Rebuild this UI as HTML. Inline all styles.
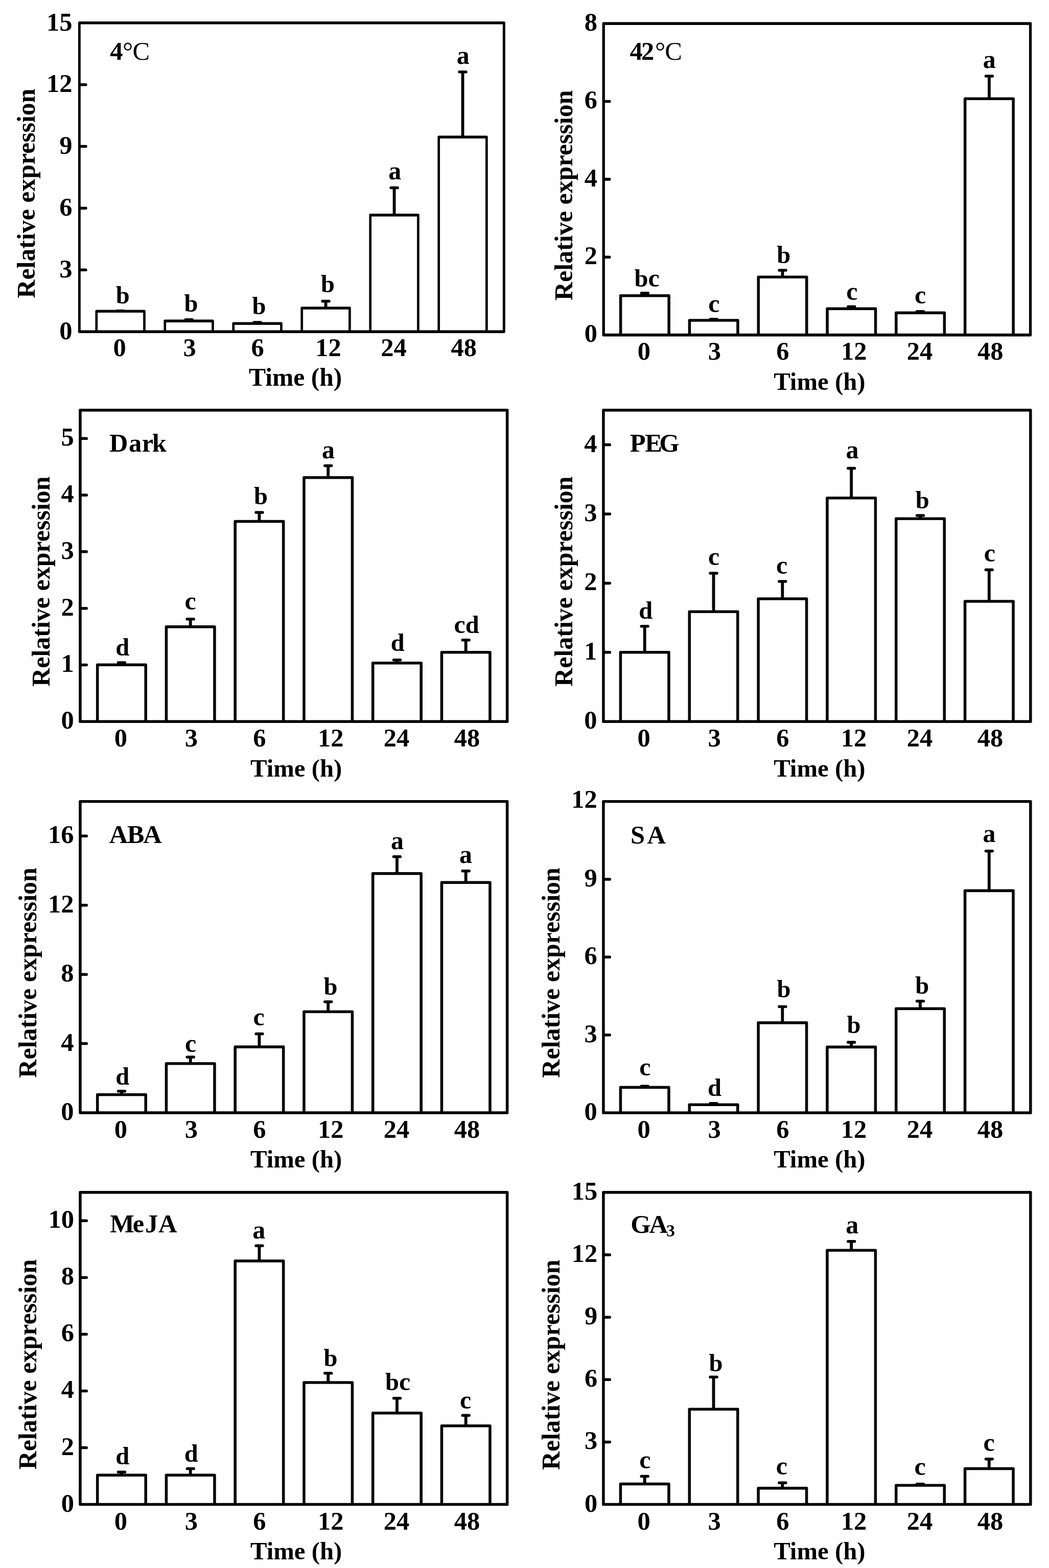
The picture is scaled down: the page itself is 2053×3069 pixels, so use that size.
<!DOCTYPE html>
<html><head><meta charset="utf-8"><title>Relative expression</title><style>
html,body{margin:0;padding:0;background:#fff;}
svg{display:block;}
text{font-family:"Liberation Serif","Times New Roman",serif;font-weight:bold;fill:#000;}

</style></head><body>
<svg width="2053" height="3069" viewBox="0 0 2053 3069">
<rect width="2053" height="3069" fill="#fff"/>
<rect x="152.9" y="42" width="835.9" height="609.9" rx="2.6"/>
<rect x="157.8" y="47.5" width="826.1" height="598.9" fill="#fff"/>
<rect x="186.45" y="606.4" width="98.4" height="43" rx="2.6"/>
<rect x="191.15" y="611.9" width="89" height="34.5" fill="#fff"/>
<rect x="226.5" y="605.7" width="18.3" height="5.5" rx="2.5"/>
<rect x="320.43" y="625.5" width="98.4" height="23.9" rx="2.6"/>
<rect x="325.13" y="631" width="89" height="15.4" fill="#fff"/>
<rect x="366.73" y="623.9" width="5.8" height="3.6"/>
<rect x="360.48" y="622.9" width="18.3" height="5.5" rx="2.5"/>
<rect x="454.41" y="630.4" width="98.4" height="19" rx="2.6"/>
<rect x="459.11" y="635.9" width="89" height="10.5" fill="#fff"/>
<rect x="500.71" y="629.2" width="5.8" height="3.2"/>
<rect x="494.46" y="628.2" width="18.3" height="5.5" rx="2.5"/>
<rect x="588.39" y="600.2" width="98.4" height="49.2" rx="2.6"/>
<rect x="593.09" y="605.7" width="89" height="40.7" fill="#fff"/>
<rect x="634.69" y="587.8" width="5.8" height="14.4"/>
<rect x="628.44" y="586.8" width="18.3" height="5.5" rx="2.5"/>
<rect x="722.37" y="418.2" width="98.4" height="231.2" rx="2.6"/>
<rect x="727.07" y="423.7" width="89" height="222.7" fill="#fff"/>
<rect x="768.67" y="365.8" width="5.8" height="54.4"/>
<rect x="762.42" y="364.8" width="18.3" height="5.5" rx="2.5"/>
<rect x="856.35" y="265.5" width="98.4" height="383.9" rx="2.6"/>
<rect x="861.05" y="271" width="89" height="375.4" fill="#fff"/>
<rect x="902.65" y="139" width="5.8" height="128.5"/>
<rect x="896.4" y="138" width="18.3" height="5.5" rx="2.5"/>
<text x="141.5" y="663.95" font-size="50.5" text-anchor="end">0</text>
<rect x="155.35" y="525.52" width="15.25" height="5.5" rx="2.6"/>
<text x="141.5" y="543.07" font-size="50.5" text-anchor="end">3</text>
<rect x="155.35" y="404.64" width="15.25" height="5.5" rx="2.6"/>
<text x="141.5" y="422.19" font-size="50.5" text-anchor="end">6</text>
<rect x="155.35" y="283.76" width="15.25" height="5.5" rx="2.6"/>
<text x="141.5" y="301.31" font-size="50.5" text-anchor="end">9</text>
<rect x="155.35" y="162.88" width="15.25" height="5.5" rx="2.6"/>
<text x="141.5" y="180.43" font-size="50.5" text-anchor="end">12</text>
<text x="141.5" y="59.55" font-size="50.5" text-anchor="end">15</text>
<text x="221.53" y="697.3" font-size="50.5">0</text>
<text x="358.62" y="697.3" font-size="50.5">3</text>
<text x="491.46" y="697.3" font-size="50.5">6</text>
<text x="617.3" y="697.3" font-size="50.5">12</text>
<text x="745.33" y="697.3" font-size="50.5">24</text>
<text x="882.59" y="697.3" font-size="50.5">48</text>
<text x="487.09" y="754.6" font-size="49.6">Time (h)</text>
<text transform="translate(67.7,583.44) rotate(-90)" font-size="49.8">Relative expression</text>
<text x="226.74" y="593.53" font-size="48.5">b</text>
<text x="360.49" y="609.53" font-size="48.5">b</text>
<text x="493.44" y="615.13" font-size="48.5">b</text>
<text x="627.99" y="572.33" font-size="48.5">b</text>
<text x="760.22" y="350.61" font-size="50">a</text>
<text x="893.77" y="125.21" font-size="50">a</text>
<text x="215.31" y="117.4" font-size="50.5">4</text>
<text x="239.88" y="117.4" font-size="50.5" style="font-weight:normal">°</text>
<text x="259.53" y="117.4" font-size="50.5" style="font-weight:normal">C</text>
<rect x="1178.6" y="43.3" width="840.6" height="615.1" rx="2.6"/>
<rect x="1183.9" y="48.9" width="830" height="603.9" fill="#fff"/>
<rect x="1211.9" y="576" width="100" height="79.8" rx="2.6"/>
<rect x="1217.4" y="581.5" width="89" height="71.3" fill="#fff"/>
<rect x="1259" y="572" width="5.8" height="6"/>
<rect x="1252.75" y="571" width="18.3" height="5.5" rx="2.5"/>
<rect x="1346.7" y="624.2" width="100" height="31.6" rx="2.6"/>
<rect x="1352.2" y="629.7" width="89" height="23.1" fill="#fff"/>
<rect x="1393.8" y="623" width="5.8" height="3.2"/>
<rect x="1387.55" y="622" width="18.3" height="5.5" rx="2.5"/>
<rect x="1481.5" y="539.4" width="100" height="116.4" rx="2.6"/>
<rect x="1487" y="544.9" width="89" height="107.9" fill="#fff"/>
<rect x="1528.6" y="527.2" width="5.8" height="14.2"/>
<rect x="1522.35" y="526.2" width="18.3" height="5.5" rx="2.5"/>
<rect x="1616.3" y="601.5" width="100" height="54.3" rx="2.6"/>
<rect x="1621.8" y="607" width="89" height="45.8" fill="#fff"/>
<rect x="1663.4" y="598.4" width="5.8" height="5.1"/>
<rect x="1657.15" y="597.4" width="18.3" height="5.5" rx="2.5"/>
<rect x="1751.1" y="609.6" width="100" height="46.2" rx="2.6"/>
<rect x="1756.6" y="615.1" width="89" height="37.7" fill="#fff"/>
<rect x="1798.2" y="607.9" width="5.8" height="3.7"/>
<rect x="1791.95" y="606.9" width="18.3" height="5.5" rx="2.5"/>
<rect x="1885.9" y="190.4" width="100" height="465.4" rx="2.6"/>
<rect x="1891.4" y="195.9" width="89" height="456.9" fill="#fff"/>
<rect x="1933" y="147.2" width="5.8" height="45.2"/>
<rect x="1926.75" y="146.2" width="18.3" height="5.5" rx="2.5"/>
<text x="1169" y="669.4" font-size="50.5" text-anchor="end">0</text>
<rect x="1181.25" y="500.43" width="14.25" height="5.6" rx="2.6"/>
<text x="1169" y="517.02" font-size="50.5" text-anchor="end">2</text>
<rect x="1181.25" y="348.05" width="14.25" height="5.6" rx="2.6"/>
<text x="1169" y="364.65" font-size="50.5" text-anchor="end">4</text>
<rect x="1181.25" y="195.68" width="14.25" height="5.6" rx="2.6"/>
<text x="1169" y="212.28" font-size="50.5" text-anchor="end">6</text>
<text x="1169" y="59.5" font-size="50.5" text-anchor="end">8</text>
<text x="1247.78" y="704.4" font-size="50.5">0</text>
<text x="1385.69" y="704.4" font-size="50.5">3</text>
<text x="1519.35" y="704.4" font-size="50.5">6</text>
<text x="1646.01" y="704.4" font-size="50.5">12</text>
<text x="1774.86" y="704.4" font-size="50.5">24</text>
<text x="1912.94" y="704.4" font-size="50.5">48</text>
<text x="1514.16" y="762.8" font-size="48.8">Time (h)</text>
<text transform="translate(1119.8,588.01) rotate(-90)" font-size="50">Relative expression</text>
<text x="1241.58" y="560.53" font-size="48.5">b</text>
<text x="1268.56" y="560.53" font-size="50">c</text>
<text x="1386.27" y="610.54" font-size="50">c</text>
<text x="1520.24" y="515.33" font-size="48.5">b</text>
<text x="1656.37" y="586.54" font-size="50">c</text>
<text x="1789.92" y="594.34" font-size="50">c</text>
<text x="1923.72" y="132.61" font-size="50">a</text>
<text x="1232.41" y="117.4" font-size="50.5">4</text>
<text x="1254.98" y="117.4" font-size="50.5">2</text>
<text x="1281.88" y="117.4" font-size="50.5" style="font-weight:normal">°</text>
<text x="1301.13" y="117.4" font-size="50.5" style="font-weight:normal">C</text>
<rect x="154.2" y="800.1" width="841.2" height="614.9" rx="2.6"/>
<rect x="159.7" y="805.6" width="830.2" height="603.9" fill="#fff"/>
<rect x="187.95" y="1298.5" width="100" height="114" rx="2.6"/>
<rect x="193.45" y="1304" width="89" height="105.5" fill="#fff"/>
<rect x="235.05" y="1295.3" width="5.8" height="5.2"/>
<rect x="228.8" y="1294.3" width="18.3" height="5.5" rx="2.5"/>
<rect x="322.7" y="1224.1" width="100" height="188.4" rx="2.6"/>
<rect x="328.2" y="1229.6" width="89" height="179.9" fill="#fff"/>
<rect x="369.8" y="1210.1" width="5.8" height="16"/>
<rect x="363.55" y="1209.1" width="18.3" height="5.5" rx="2.5"/>
<rect x="457.45" y="1017.8" width="100" height="394.7" rx="2.6"/>
<rect x="462.95" y="1023.3" width="89" height="386.2" fill="#fff"/>
<rect x="504.55" y="1001.2" width="5.8" height="18.6"/>
<rect x="498.3" y="1000.2" width="18.3" height="5.5" rx="2.5"/>
<rect x="592.2" y="932" width="100" height="480.5" rx="2.6"/>
<rect x="597.7" y="937.5" width="89" height="472" fill="#fff"/>
<rect x="639.3" y="909.7" width="5.8" height="24.3"/>
<rect x="633.05" y="908.7" width="18.3" height="5.5" rx="2.5"/>
<rect x="726.95" y="1295" width="100" height="117.5" rx="2.6"/>
<rect x="732.45" y="1300.5" width="89" height="109" fill="#fff"/>
<rect x="774.05" y="1290" width="5.8" height="7"/>
<rect x="767.8" y="1289" width="18.3" height="5.5" rx="2.5"/>
<rect x="861.7" y="1274" width="100" height="138.5" rx="2.6"/>
<rect x="867.2" y="1279.5" width="89" height="130" fill="#fff"/>
<rect x="908.8" y="1251" width="5.8" height="25"/>
<rect x="902.55" y="1250" width="18.3" height="5.5" rx="2.5"/>
<text x="144.8" y="1426.25" font-size="50.5" text-anchor="end">0</text>
<rect x="156.95" y="1298.7" width="15.05" height="5.5" rx="2.6"/>
<text x="144.8" y="1315.45" font-size="50.5" text-anchor="end">1</text>
<rect x="156.95" y="1187.9" width="15.05" height="5.5" rx="2.6"/>
<text x="144.8" y="1204.65" font-size="50.5" text-anchor="end">2</text>
<rect x="156.95" y="1077.1" width="15.05" height="5.5" rx="2.6"/>
<text x="144.8" y="1093.85" font-size="50.5" text-anchor="end">3</text>
<rect x="156.95" y="966.3" width="15.05" height="5.5" rx="2.6"/>
<text x="144.8" y="983.05" font-size="50.5" text-anchor="end">4</text>
<rect x="156.95" y="855.5" width="15.05" height="5.5" rx="2.6"/>
<text x="144.8" y="872.25" font-size="50.5" text-anchor="end">5</text>
<text x="223.82" y="1461.2" font-size="50.5">0</text>
<text x="361.69" y="1461.2" font-size="50.5">3</text>
<text x="495.3" y="1461.2" font-size="50.5">6</text>
<text x="621.91" y="1461.2" font-size="50.5">12</text>
<text x="750.71" y="1461.2" font-size="50.5">24</text>
<text x="888.74" y="1461.2" font-size="50.5">48</text>
<text x="490.01" y="1519.5" font-size="48.8">Time (h)</text>
<text transform="translate(96.5,1343.86) rotate(-90)" font-size="50">Relative expression</text>
<text x="226.35" y="1282.53" font-size="48.5">d</text>
<text x="361.62" y="1192.74" font-size="50">c</text>
<text x="496.99" y="987.43" font-size="48.5">b</text>
<text x="630.12" y="896.61" font-size="50">a</text>
<text x="764.75" y="1273.53" font-size="48.5">d</text>
<text x="888.53" y="1239.23" font-size="50">c</text>
<text x="910.73" y="1239.23" font-size="48.5">d</text>
<text x="214.11" y="883.7" font-size="50.5">D</text>
<text x="251.97" y="883.7" font-size="50.5">a</text>
<text x="277.64" y="883.7" font-size="50.5">r</text>
<text x="297.84" y="883.7" font-size="50.5">k</text>
<rect x="1178.2" y="800.1" width="841.4" height="614.9" rx="2.6"/>
<rect x="1183.7" y="805.6" width="830.4" height="603.9" fill="#fff"/>
<rect x="1211.7" y="1274" width="100" height="138.5" rx="2.6"/>
<rect x="1217.2" y="1279.5" width="89" height="130" fill="#fff"/>
<rect x="1258.8" y="1224.1" width="5.8" height="51.9"/>
<rect x="1252.55" y="1223.1" width="18.3" height="5.5" rx="2.5"/>
<rect x="1346.52" y="1194.4" width="100" height="218.1" rx="2.6"/>
<rect x="1352.02" y="1199.9" width="89" height="209.6" fill="#fff"/>
<rect x="1393.62" y="1120.3" width="5.8" height="76.1"/>
<rect x="1387.37" y="1119.3" width="18.3" height="5.5" rx="2.5"/>
<rect x="1481.34" y="1169.2" width="100" height="243.3" rx="2.6"/>
<rect x="1486.84" y="1174.7" width="89" height="234.8" fill="#fff"/>
<rect x="1528.44" y="1136.3" width="5.8" height="34.9"/>
<rect x="1522.19" y="1135.3" width="18.3" height="5.5" rx="2.5"/>
<rect x="1616.16" y="971.9" width="100" height="440.6" rx="2.6"/>
<rect x="1621.66" y="977.4" width="89" height="432.1" fill="#fff"/>
<rect x="1663.26" y="914.7" width="5.8" height="59.2"/>
<rect x="1657.01" y="913.7" width="18.3" height="5.5" rx="2.5"/>
<rect x="1750.98" y="1012.4" width="100" height="400.1" rx="2.6"/>
<rect x="1756.48" y="1017.9" width="89" height="391.6" fill="#fff"/>
<rect x="1798.08" y="1007.3" width="5.8" height="7.1"/>
<rect x="1791.83" y="1006.3" width="18.3" height="5.5" rx="2.5"/>
<rect x="1885.8" y="1174.2" width="100" height="238.3" rx="2.6"/>
<rect x="1891.3" y="1179.7" width="89" height="229.8" fill="#fff"/>
<rect x="1932.9" y="1113.6" width="5.8" height="62.6"/>
<rect x="1926.65" y="1112.6" width="18.3" height="5.5" rx="2.5"/>
<text x="1168.5" y="1426.25" font-size="50.5" text-anchor="end">0</text>
<rect x="1180.95" y="1274.08" width="15.15" height="5.5" rx="2.6"/>
<text x="1168.5" y="1290.83" font-size="50.5" text-anchor="end">1</text>
<rect x="1180.95" y="1138.66" width="15.15" height="5.5" rx="2.6"/>
<text x="1168.5" y="1155.41" font-size="50.5" text-anchor="end">2</text>
<rect x="1180.95" y="1003.23" width="15.15" height="5.5" rx="2.6"/>
<text x="1168.5" y="1019.98" font-size="50.5" text-anchor="end">3</text>
<rect x="1180.95" y="867.81" width="15.15" height="5.5" rx="2.6"/>
<text x="1168.5" y="884.56" font-size="50.5" text-anchor="end">4</text>
<text x="1247.58" y="1461.2" font-size="50.5">0</text>
<text x="1385.51" y="1461.2" font-size="50.5">3</text>
<text x="1519.19" y="1461.2" font-size="50.5">6</text>
<text x="1645.87" y="1461.2" font-size="50.5">12</text>
<text x="1774.74" y="1461.2" font-size="50.5">24</text>
<text x="1912.84" y="1461.2" font-size="50.5">48</text>
<text x="1514.16" y="1519.5" font-size="48.8">Time (h)</text>
<text transform="translate(1119.8,1343.86) rotate(-90)" font-size="50">Relative expression</text>
<text x="1250.3" y="1211.33" font-size="48.5">d</text>
<text x="1385.97" y="1105.54" font-size="50">c</text>
<text x="1519.12" y="1122.84" font-size="50">c</text>
<text x="1655.62" y="896.61" font-size="50">a</text>
<text x="1791.64" y="995.43" font-size="48.5">b</text>
<text x="1925.87" y="1098.84" font-size="50">c</text>
<text x="1232.74" y="883.7" font-size="50.5">P</text>
<text x="1262.34" y="883.7" font-size="50.5">E</text>
<text x="1290.23" y="883.7" font-size="50.5">G</text>
<rect x="154.2" y="1565.9" width="841.2" height="614.8" rx="2.6"/>
<rect x="159.7" y="1571.4" width="830.2" height="603.8" fill="#fff"/>
<rect x="187.95" y="2139.8" width="100" height="38.4" rx="2.6"/>
<rect x="193.45" y="2145.3" width="89" height="29.9" fill="#fff"/>
<rect x="235.05" y="2134.1" width="5.8" height="7.7"/>
<rect x="228.8" y="2133.1" width="18.3" height="5.5" rx="2.5"/>
<rect x="322.7" y="2078.9" width="100" height="99.3" rx="2.6"/>
<rect x="328.2" y="2084.4" width="89" height="90.8" fill="#fff"/>
<rect x="369.8" y="2067.3" width="5.8" height="13.6"/>
<rect x="363.55" y="2066.3" width="18.3" height="5.5" rx="2.5"/>
<rect x="457.45" y="2046.3" width="100" height="131.9" rx="2.6"/>
<rect x="462.95" y="2051.8" width="89" height="123.4" fill="#fff"/>
<rect x="504.55" y="2021.7" width="5.8" height="26.6"/>
<rect x="498.3" y="2020.7" width="18.3" height="5.5" rx="2.5"/>
<rect x="592.2" y="1977.4" width="100" height="200.8" rx="2.6"/>
<rect x="597.7" y="1982.9" width="89" height="192.3" fill="#fff"/>
<rect x="639.3" y="1959.1" width="5.8" height="20.3"/>
<rect x="633.05" y="1958.1" width="18.3" height="5.5" rx="2.5"/>
<rect x="726.95" y="1707" width="100" height="471.2" rx="2.6"/>
<rect x="732.45" y="1712.5" width="89" height="462.7" fill="#fff"/>
<rect x="774.05" y="1675.1" width="5.8" height="33.9"/>
<rect x="767.8" y="1674.1" width="18.3" height="5.5" rx="2.5"/>
<rect x="861.7" y="1724.6" width="100" height="453.6" rx="2.6"/>
<rect x="867.2" y="1730.1" width="89" height="445.1" fill="#fff"/>
<rect x="908.8" y="1703" width="5.8" height="23.6"/>
<rect x="902.55" y="1702" width="18.3" height="5.5" rx="2.5"/>
<text x="144.5" y="2191.95" font-size="50.5" text-anchor="end">0</text>
<rect x="156.95" y="2039.8" width="15.05" height="5.5" rx="2.6"/>
<text x="144.5" y="2056.55" font-size="50.5" text-anchor="end">4</text>
<rect x="156.95" y="1904.4" width="15.05" height="5.5" rx="2.6"/>
<text x="144.5" y="1921.15" font-size="50.5" text-anchor="end">8</text>
<rect x="156.95" y="1769" width="15.05" height="5.5" rx="2.6"/>
<text x="144.5" y="1785.75" font-size="50.5" text-anchor="end">12</text>
<rect x="156.95" y="1633.6" width="15.05" height="5.5" rx="2.6"/>
<text x="144.5" y="1650.35" font-size="50.5" text-anchor="end">16</text>
<text x="223.82" y="2226.9" font-size="50.5">0</text>
<text x="361.69" y="2226.9" font-size="50.5">3</text>
<text x="495.3" y="2226.9" font-size="50.5">6</text>
<text x="621.91" y="2226.9" font-size="50.5">12</text>
<text x="750.71" y="2226.9" font-size="50.5">24</text>
<text x="888.74" y="2226.9" font-size="50.5">48</text>
<text x="490.01" y="2285.2" font-size="48.8">Time (h)</text>
<text transform="translate(70.5,2109.66) rotate(-90)" font-size="50">Relative expression</text>
<text x="226.35" y="2123.33" font-size="48.5">d</text>
<text x="361.92" y="2058.54" font-size="50">c</text>
<text x="495.62" y="2006.94" font-size="50">c</text>
<text x="633.54" y="1947.03" font-size="48.5">b</text>
<text x="765.02" y="1661.61" font-size="50">a</text>
<text x="899.07" y="1689.21" font-size="50">a</text>
<text x="213.81" y="1650.4" font-size="50.5">A</text>
<text x="248.76" y="1650.4" font-size="50.5">B</text>
<text x="280.31" y="1650.4" font-size="50.5">A</text>
<rect x="1178.2" y="1565.9" width="841.4" height="614.9" rx="2.6"/>
<rect x="1183.7" y="1571.4" width="830.4" height="603.9" fill="#fff"/>
<rect x="1211.7" y="2125.5" width="100" height="52.8" rx="2.6"/>
<rect x="1217.2" y="2131" width="89" height="44.3" fill="#fff"/>
<rect x="1258.8" y="2124.2" width="5.8" height="3.3"/>
<rect x="1252.55" y="2123.2" width="18.3" height="5.5" rx="2.5"/>
<rect x="1346.52" y="2159.4" width="100" height="18.9" rx="2.6"/>
<rect x="1352.02" y="2164.9" width="89" height="10.4" fill="#fff"/>
<rect x="1393.62" y="2158.1" width="5.8" height="3.3"/>
<rect x="1387.37" y="2157.1" width="18.3" height="5.5" rx="2.5"/>
<rect x="1481.34" y="1999.1" width="100" height="179.2" rx="2.6"/>
<rect x="1486.84" y="2004.6" width="89" height="170.7" fill="#fff"/>
<rect x="1528.44" y="1968.5" width="5.8" height="32.6"/>
<rect x="1522.19" y="1967.5" width="18.3" height="5.5" rx="2.5"/>
<rect x="1616.16" y="2046.6" width="100" height="131.7" rx="2.6"/>
<rect x="1621.66" y="2052.1" width="89" height="123.2" fill="#fff"/>
<rect x="1663.26" y="2038.3" width="5.8" height="10.3"/>
<rect x="1657.01" y="2037.3" width="18.3" height="5.5" rx="2.5"/>
<rect x="1750.98" y="1971.5" width="100" height="206.8" rx="2.6"/>
<rect x="1756.48" y="1977" width="89" height="198.3" fill="#fff"/>
<rect x="1798.08" y="1957.8" width="5.8" height="15.7"/>
<rect x="1791.83" y="1956.8" width="18.3" height="5.5" rx="2.5"/>
<rect x="1885.8" y="1740.6" width="100" height="437.7" rx="2.6"/>
<rect x="1891.3" y="1746.1" width="89" height="429.2" fill="#fff"/>
<rect x="1932.9" y="1664.1" width="5.8" height="78.5"/>
<rect x="1926.65" y="1663.1" width="18.3" height="5.5" rx="2.5"/>
<text x="1168.8" y="2192.05" font-size="50.5" text-anchor="end">0</text>
<rect x="1180.95" y="2022.95" width="15.05" height="5.5" rx="2.6"/>
<text x="1168.8" y="2039.7" font-size="50.5" text-anchor="end">3</text>
<rect x="1180.95" y="1870.6" width="15.05" height="5.5" rx="2.6"/>
<text x="1168.8" y="1887.35" font-size="50.5" text-anchor="end">6</text>
<rect x="1180.95" y="1718.25" width="15.05" height="5.5" rx="2.6"/>
<text x="1168.8" y="1735" font-size="50.5" text-anchor="end">9</text>
<text x="1168.8" y="1581.4" font-size="50.5" text-anchor="end">12</text>
<text x="1247.58" y="2227" font-size="50.5">0</text>
<text x="1385.51" y="2227" font-size="50.5">3</text>
<text x="1519.19" y="2227" font-size="50.5">6</text>
<text x="1645.87" y="2227" font-size="50.5">12</text>
<text x="1774.74" y="2227" font-size="50.5">24</text>
<text x="1912.84" y="2227" font-size="50.5">48</text>
<text x="1514.16" y="2285.3" font-size="48.8">Time (h)</text>
<text transform="translate(1094.9,2109.66) rotate(-90)" font-size="50">Relative expression</text>
<text x="1251.17" y="2105.04" font-size="50">c</text>
<text x="1385.05" y="2144.93" font-size="48.5">d</text>
<text x="1520.54" y="1952.03" font-size="48.5">b</text>
<text x="1657.54" y="2021.93" font-size="48.5">b</text>
<text x="1791.34" y="1945.33" font-size="48.5">b</text>
<text x="1923.42" y="1648.31" font-size="50">a</text>
<text x="1234.11" y="1650.5" font-size="50.5">S</text>
<text x="1266.61" y="1650.5" font-size="50.5">A</text>
<rect x="154.2" y="2331.1" width="841.2" height="616.2" rx="2.6"/>
<rect x="159.7" y="2336.6" width="830.2" height="605.2" fill="#fff"/>
<rect x="187.95" y="2884.5" width="100" height="60.3" rx="2.6"/>
<rect x="193.45" y="2890" width="89" height="51.8" fill="#fff"/>
<rect x="235.05" y="2879.5" width="5.8" height="7"/>
<rect x="228.8" y="2878.5" width="18.3" height="5.5" rx="2.5"/>
<rect x="322.7" y="2884.5" width="100" height="60.3" rx="2.6"/>
<rect x="328.2" y="2890" width="89" height="51.8" fill="#fff"/>
<rect x="369.8" y="2872.8" width="5.8" height="13.7"/>
<rect x="363.55" y="2871.8" width="18.3" height="5.5" rx="2.5"/>
<rect x="457.45" y="2465.3" width="100" height="479.5" rx="2.6"/>
<rect x="462.95" y="2470.8" width="89" height="471" fill="#fff"/>
<rect x="504.55" y="2436.4" width="5.8" height="30.9"/>
<rect x="498.3" y="2435.4" width="18.3" height="5.5" rx="2.5"/>
<rect x="592.2" y="2703.2" width="100" height="241.6" rx="2.6"/>
<rect x="597.7" y="2708.7" width="89" height="233.1" fill="#fff"/>
<rect x="639.3" y="2685.9" width="5.8" height="19.3"/>
<rect x="633.05" y="2684.9" width="18.3" height="5.5" rx="2.5"/>
<rect x="726.95" y="2763" width="100" height="181.8" rx="2.6"/>
<rect x="732.45" y="2768.5" width="89" height="173.3" fill="#fff"/>
<rect x="774.05" y="2735.1" width="5.8" height="29.9"/>
<rect x="767.8" y="2734.1" width="18.3" height="5.5" rx="2.5"/>
<rect x="861.7" y="2788" width="100" height="156.8" rx="2.6"/>
<rect x="867.2" y="2793.5" width="89" height="148.3" fill="#fff"/>
<rect x="908.8" y="2768.4" width="5.8" height="21.6"/>
<rect x="902.55" y="2767.4" width="18.3" height="5.5" rx="2.5"/>
<text x="144.9" y="2958.55" font-size="50.5" text-anchor="end">0</text>
<rect x="156.95" y="2830.76" width="15.05" height="5.5" rx="2.6"/>
<text x="144.9" y="2847.51" font-size="50.5" text-anchor="end">2</text>
<rect x="156.95" y="2719.73" width="15.05" height="5.5" rx="2.6"/>
<text x="144.9" y="2736.48" font-size="50.5" text-anchor="end">4</text>
<rect x="156.95" y="2608.69" width="15.05" height="5.5" rx="2.6"/>
<text x="144.9" y="2625.44" font-size="50.5" text-anchor="end">6</text>
<rect x="156.95" y="2497.65" width="15.05" height="5.5" rx="2.6"/>
<text x="144.9" y="2514.4" font-size="50.5" text-anchor="end">8</text>
<rect x="156.95" y="2386.62" width="15.05" height="5.5" rx="2.6"/>
<text x="144.9" y="2403.37" font-size="50.5" text-anchor="end">10</text>
<text x="223.82" y="2993.5" font-size="50.5">0</text>
<text x="361.69" y="2993.5" font-size="50.5">3</text>
<text x="495.3" y="2993.5" font-size="50.5">6</text>
<text x="621.91" y="2993.5" font-size="50.5">12</text>
<text x="750.71" y="2993.5" font-size="50.5">24</text>
<text x="888.74" y="2993.5" font-size="50.5">48</text>
<text x="490.01" y="3051.8" font-size="48.8">Time (h)</text>
<text transform="translate(70.5,2876.26) rotate(-90)" font-size="50">Relative expression</text>
<text x="226.35" y="2866.33" font-size="48.5">d</text>
<text x="360.75" y="2860.73" font-size="48.5">d</text>
<text x="494.37" y="2424.21" font-size="50">a</text>
<text x="633.54" y="2673.73" font-size="48.5">b</text>
<text x="754.03" y="2721.03" font-size="48.5">b</text>
<text x="781.01" y="2721.03" font-size="50">c</text>
<text x="900.02" y="2756.94" font-size="50">c</text>
<text x="215.24" y="2411.9" font-size="50.5">M</text>
<text x="259.67" y="2411.9" font-size="50.5">e</text>
<text x="283.96" y="2411.9" font-size="50.5">J</text>
<text x="309.91" y="2411.9" font-size="50.5">A</text>
<rect x="1178.2" y="2331.1" width="841.4" height="616.2" rx="2.6"/>
<rect x="1183.7" y="2336.6" width="830.4" height="605.2" fill="#fff"/>
<rect x="1211.7" y="2901.8" width="100" height="43" rx="2.6"/>
<rect x="1217.2" y="2907.3" width="89" height="34.5" fill="#fff"/>
<rect x="1258.8" y="2887.8" width="5.8" height="16"/>
<rect x="1252.55" y="2886.8" width="18.3" height="5.5" rx="2.5"/>
<rect x="1346.52" y="2755.4" width="100" height="189.4" rx="2.6"/>
<rect x="1352.02" y="2760.9" width="89" height="180.9" fill="#fff"/>
<rect x="1393.62" y="2693.5" width="5.8" height="63.9"/>
<rect x="1387.37" y="2692.5" width="18.3" height="5.5" rx="2.5"/>
<rect x="1481.34" y="2910.1" width="100" height="34.7" rx="2.6"/>
<rect x="1486.84" y="2915.6" width="89" height="26.2" fill="#fff"/>
<rect x="1528.44" y="2900.4" width="5.8" height="11.7"/>
<rect x="1522.19" y="2899.4" width="18.3" height="5.5" rx="2.5"/>
<rect x="1616.16" y="2444.4" width="100" height="500.4" rx="2.6"/>
<rect x="1621.66" y="2449.9" width="89" height="491.9" fill="#fff"/>
<rect x="1663.26" y="2428.1" width="5.8" height="18.3"/>
<rect x="1657.01" y="2427.1" width="18.3" height="5.5" rx="2.5"/>
<rect x="1750.98" y="2904.4" width="100" height="40.4" rx="2.6"/>
<rect x="1756.48" y="2909.9" width="89" height="31.9" fill="#fff"/>
<rect x="1798.08" y="2903.1" width="5.8" height="3.3"/>
<rect x="1791.83" y="2902.1" width="18.3" height="5.5" rx="2.5"/>
<rect x="1885.8" y="2871.8" width="100" height="73" rx="2.6"/>
<rect x="1891.3" y="2877.3" width="89" height="64.5" fill="#fff"/>
<rect x="1932.9" y="2853.9" width="5.8" height="19.9"/>
<rect x="1926.65" y="2852.9" width="18.3" height="5.5" rx="2.5"/>
<text x="1169.2" y="2958.55" font-size="50.5" text-anchor="end">0</text>
<rect x="1180.95" y="2819.66" width="15.05" height="5.5" rx="2.6"/>
<text x="1169.2" y="2836.41" font-size="50.5" text-anchor="end">3</text>
<rect x="1180.95" y="2697.52" width="15.05" height="5.5" rx="2.6"/>
<text x="1169.2" y="2714.27" font-size="50.5" text-anchor="end">6</text>
<rect x="1180.95" y="2575.38" width="15.05" height="5.5" rx="2.6"/>
<text x="1169.2" y="2592.13" font-size="50.5" text-anchor="end">9</text>
<rect x="1180.95" y="2453.24" width="15.05" height="5.5" rx="2.6"/>
<text x="1169.2" y="2469.99" font-size="50.5" text-anchor="end">12</text>
<text x="1169.2" y="2348" font-size="50.5" text-anchor="end">15</text>
<text x="1247.58" y="2993.5" font-size="50.5">0</text>
<text x="1385.51" y="2993.5" font-size="50.5">3</text>
<text x="1519.19" y="2993.5" font-size="50.5">6</text>
<text x="1645.87" y="2993.5" font-size="50.5">12</text>
<text x="1774.74" y="2993.5" font-size="50.5">24</text>
<text x="1912.84" y="2993.5" font-size="50.5">48</text>
<text x="1514.16" y="3051.8" font-size="48.8">Time (h)</text>
<text transform="translate(1094.9,2877.01) rotate(-90)" font-size="50">Relative expression</text>
<text x="1251.17" y="2874.04" font-size="50">c</text>
<text x="1387.44" y="2684.43" font-size="48.5">b</text>
<text x="1518.87" y="2885.64" font-size="50">c</text>
<text x="1655.27" y="2414.21" font-size="50">a</text>
<text x="1789.47" y="2887.34" font-size="50">c</text>
<text x="1924.52" y="2840.14" font-size="50">c</text>
<text x="1234.33" y="2412.5" font-size="50.5">G</text>
<text x="1270.61" y="2412.5" font-size="50.5">A</text>
<text x="1304.24" y="2419.6" font-size="33.5">3</text>
</svg>
</body></html>
